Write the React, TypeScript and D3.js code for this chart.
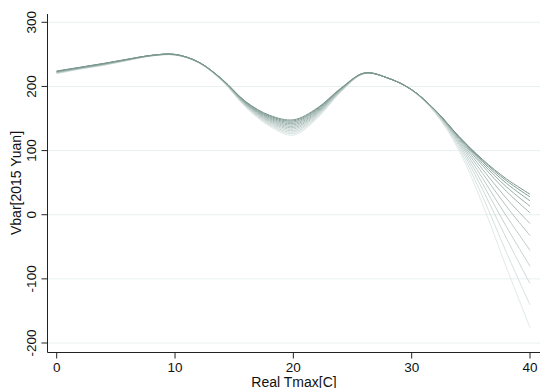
import React from "react";
import * as d3 from "d3";

// x grid (Real Tmax, C)
const tmax = [0, 2, 4, 6, 8, 10, 12, 14, 16, 18, 20, 22, 24, 26, 28, 30, 32, 34, 36, 38, 40];

// Vbar curves, darkest first
const vbar = [
  [224, 230, 236, 242.5, 248.5, 250, 238, 211, 176, 155, 148, 166, 197, 221, 213, 195, 163, 122, 86, 56, 32],
  [223.7, 229.8, 235.8, 242.4, 248.4, 249.9, 237.9, 210.8, 175.4, 153.8, 146.3, 164.9, 196.6, 220.9, 213, 195, 162.9, 121.6, 84.6, 53.2, 27.8],
  [223.4, 229.5, 235.5, 242.2, 248.4, 249.9, 237.8, 210.5, 174.6, 152.4, 144.4, 163.6, 196.1, 220.8, 213, 194.9, 162.8, 120.9, 82.5, 49.1, 21.6],
  [223.0, 229.3, 235.3, 242.0, 248.3, 249.8, 237.8, 210.3, 173.8, 150.9, 142.2, 162.2, 195.6, 220.8, 213, 194.9, 162.6, 120, 79.7, 43.6, 13.3],
  [222.7, 229.0, 235.0, 241.8, 248.2, 249.7, 237.7, 210.0, 173.0, 149.4, 140.1, 160.7, 195.0, 220.7, 213, 194.9, 162.3, 118.9, 76.2, 36.7, 2.9],
  [222.3, 228.7, 234.7, 241.7, 248.1, 249.6, 237.6, 209.7, 172.2, 147.9, 137.9, 159.3, 194.5, 220.6, 213, 194.8, 161.9, 117.2, 70.6, 25.6, -13.8],
  [222.0, 228.5, 234.5, 241.5, 248.0, 249.5, 237.5, 209.5, 171.4, 146.3, 135.8, 157.8, 193.9, 220.5, 213, 194.7, 161.5, 115.2, 64.3, 13.2, -32.5],
  [221.6, 228.2, 234.2, 241.3, 247.9, 249.4, 237.4, 209.2, 170.6, 144.8, 133.6, 156.4, 193.4, 220.4, 213, 194.6, 160.9, 112.8, 56.6, -2, -55.4],
  [221.2, 227.9, 233.9, 241.1, 247.8, 249.3, 237.3, 208.9, 169.7, 143.1, 131.2, 154.8, 192.8, 220.3, 213, 194.5, 160.3, 110.1, 48.2, -18.5, -80.3],
  [220.8, 227.6, 233.6, 240.9, 247.7, 249.2, 237.2, 208.6, 168.8, 141.4, 128.8, 153.2, 192.2, 220.2, 213, 194.3, 159.7, 107.3, 39.1, -36.5, -107.4],
  [220.4, 227.3, 233.3, 240.7, 247.6, 249.1, 237.1, 208.3, 167.9, 139.7, 126.4, 151.6, 191.6, 220.1, 213, 194.2, 158.9, 103.7, 27.9, -58.5, -140.6],
  [220, 227, 233, 240.5, 247.5, 249, 237, 208, 167, 138, 124, 150, 191, 220, 213, 194, 158, 100, 16, -82, -176],
];

const xTicks = [0, 10, 20, 30, 40];
const yTicks = [-200, -100, 0, 100, 200, 300];

export default function App() {
  const ref = React.useRef<SVGSVGElement>(null);

  React.useEffect(() => {
    const width = 541;
    const height = 388;
    const svg = d3.select(ref.current);
    svg.selectAll("*").remove();

    const x = d3.scaleLinear().domain([0, 40]).range([56.7, 530]);
    const y = d3.scaleLinear().domain([-200, 300]).range([343, 22.3]);
    const left = 47.5;
    const bottom = 352.5;
    const font = "'Liberation Sans', Arial, Helvetica, sans-serif";

    svg.append("rect").attr("width", width).attr("height", height).attr("fill", "white");

    // gridlines
    svg.selectAll("line.grid")
      .data(yTicks)
      .enter()
      .append("line")
      .attr("class", "grid")
      .attr("x1", left)
      .attr("x2", 540)
      .attr("y1", (d) => y(d))
      .attr("y2", (d) => y(d))
      .attr("stroke", "#e8f0f0")
      .attr("stroke-width", 1);

    // curves, lightest underneath
    const color = d3.interpolateRgb("#7a968e", "#e0eae8");
    const line = d3
      .line<number>()
      .x((d, i) => x(tmax[i]))
      .y((d) => y(d))
      .curve(d3.curveCatmullRom.alpha(0.5));

    const order = vbar.map((v, i) => i).reverse();
    svg.selectAll("path.curve")
      .data(order)
      .enter()
      .append("path")
      .attr("class", "curve")
      .attr("d", (i) => line(vbar[i]))
      .attr("fill", "none")
      .attr("stroke", (i) => color(i / (vbar.length - 1)))
      .attr("stroke-width", 1);

    // axes
    svg.append("line")
      .attr("x1", left).attr("x2", left)
      .attr("y1", 14).attr("y2", bottom)
      .attr("stroke", "#222").attr("stroke-width", 1);
    svg.append("line")
      .attr("x1", left).attr("x2", 540)
      .attr("y1", bottom).attr("y2", bottom)
      .attr("stroke", "#222").attr("stroke-width", 1);

    // y ticks + labels
    svg.selectAll("line.ytick")
      .data(yTicks)
      .enter()
      .append("line")
      .attr("x1", left - 6)
      .attr("x2", left)
      .attr("y1", (d) => y(d))
      .attr("y2", (d) => y(d))
      .attr("stroke", "#222");
    svg.selectAll("text.ylab")
      .data(yTicks)
      .enter()
      .append("text")
      .attr("transform", (d) => `translate(35.5,${y(d)}) rotate(-90)`)
      .attr("text-anchor", "middle")
      .attr("font-family", font)
      .attr("font-size", 13.5)
      .attr("fill", "#111")
      .text((d) => d);

    // x ticks + labels
    svg.selectAll("line.xtick")
      .data(xTicks)
      .enter()
      .append("line")
      .attr("x1", (d) => x(d))
      .attr("x2", (d) => x(d))
      .attr("y1", bottom)
      .attr("y2", bottom + 6)
      .attr("stroke", "#222");
    svg.selectAll("text.xlab")
      .data(xTicks)
      .enter()
      .append("text")
      .attr("x", (d) => x(d))
      .attr("y", 372)
      .attr("text-anchor", "middle")
      .attr("font-family", font)
      .attr("font-size", 13.5)
      .attr("fill", "#111")
      .text((d) => d);

    // titles
    svg.append("text")
      .attr("x", 294)
      .attr("y", 386.5)
      .attr("text-anchor", "middle")
      .attr("font-family", font)
      .attr("font-size", 14)
      .attr("fill", "#111")
      .text("Real Tmax[C]");
    svg.append("text")
      .attr("transform", "translate(20.5,183) rotate(-90)")
      .attr("text-anchor", "middle")
      .attr("font-family", font)
      .attr("font-size", 14)
      .attr("fill", "#111")
      .text("Vbar[2015 Yuan]");
  }, []);

  return (
    <svg
      ref={ref}
      width={541}
      height={388}
      style={{ position: "absolute", left: 0, top: 0, display: "block" }}
    />
  );
}
